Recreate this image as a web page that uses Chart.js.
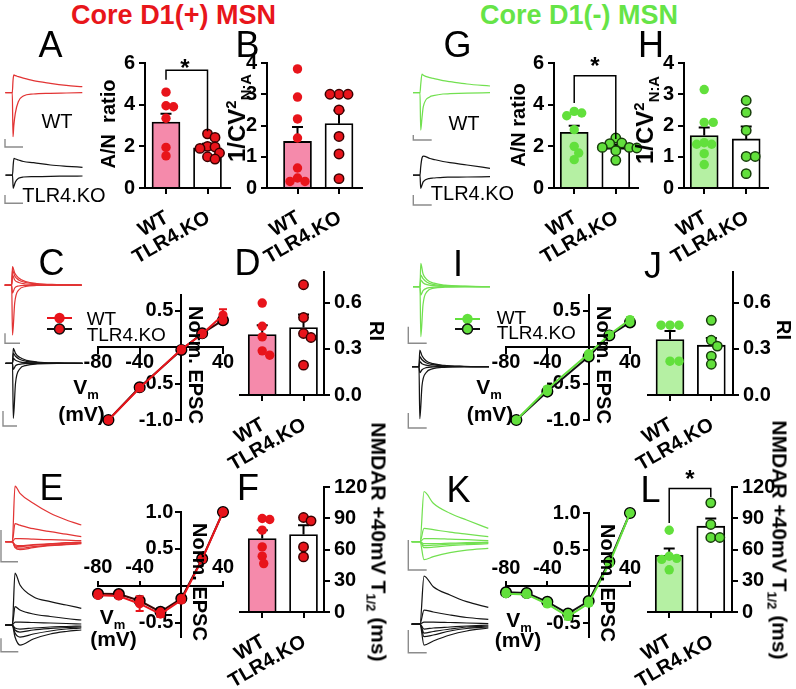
<!DOCTYPE html>
<html lang="en">
<head>
<meta charset="utf-8">
<title>Core D1(+) / D1(-) MSN</title>
<script src="https://cdn.jsdelivr.net/npm/chart.js@4.4.1/dist/chart.umd.min.js"></script>
<style>
html,body{margin:0;padding:0;background:#fff;}
body{position:relative;width:796px;height:689px;overflow:hidden;font-family:"Liberation Sans",Arial,Helvetica,sans-serif;}
canvas{position:absolute;}
.t{position:absolute;white-space:nowrap;line-height:1;color:#000;}
.t sub,.t sup{font-size:0.62em;line-height:0;}
.lg{position:absolute;}
</style>
</head>
<body>
<script>
// ======================= DATA =======================
const groups = ['WT', 'TLR4.KO'];

// --- Core D1(+) MSN ---
// A: AMPA/NMDA ratio
const aWT = [4.6, 3.95, 3.9, 3.35, 1.95, 1.54];
const aKO = [2.6, 2.43, 2.0, 1.97, 1.9, 1.68, 1.5, 1.39];
const aMean = [3.17, 1.93];
const aSem = [0.40, 0.19];
// B: 1/CV^2 N:A
const bWT = [3.81, 2.91, 2.21, 1.6, 0.64, 0.32, 0.21, 0.21];
const bKO = [3.0, 3.0, 3.0, 2.5, 1.65, 1.09, 0.3];
const bMean = [1.49, 2.06];
const bSem = [0.46, 0.42];
// C: AMPA I-V
const cVm = [-70, -40, 0, 20, 40];
const cWT = [-1.0, -0.56, -0.03, 0.18, 0.44];
const cKO = [-1.0, -0.55, -0.04, 0.19, 0.37];
const cWTsem = [0.02, 0.03, 0.02, 0.02, 0.08];
const cKOsem = [0.02, 0.03, 0.02, 0.02, 0.03];
// D: rectification index
const dWT = [0.598, 0.447, 0.378, 0.287, 0.259];
const dKO = [0.717, 0.504, 0.40, 0.374, 0.194];
const dMean = [0.393, 0.439];
const dSem = [0.061, 0.084];
// E: NMDA I-V
const eVm = [-80, -60, -40, -20, 0, 20, 40];
const eWT = [-0.126, -0.135, -0.24, -0.38, -0.19, 0.36, 1.0];
const eKO = [-0.105, -0.11, -0.20, -0.35, -0.17, 0.37, 1.0];
const eWTsem = [0.02, 0.02, 0.10, 0.04, 0.03, 0.03, 0];
const eKOsem = [0.02, 0.02, 0.03, 0.05, 0.03, 0.03, 0];
// F: NMDAR +40 mV T1/2 (ms)
const fWT = [89.8, 88.8, 78.6, 62.5, 53.6, 46.5];
const fKO = [90.7, 87.5, 62.5, 52.9];
const fMean = [70.6, 74.4];
const fSem = [8.0, 9.0];

// --- Core D1(-) MSN ---
const gWT = [3.68, 3.6, 3.47, 2.8, 2.0, 1.68, 1.36];
const gKO = [2.4, 2.16, 2.13, 1.95, 1.95, 1.92, 1.79, 1.33];
const gMean = [2.67, 1.92];
const gSem = [0.32, 0.16];
const hWT = [3.15, 2.1, 2.1, 1.45, 1.4, 1.4, 1.1, 0.75];
const hKO = [2.8, 2.42, 1.84, 1.01, 1.01, 0.46];
const hMean = [1.68, 1.57];
const hSem = [0.26, 0.40];
const iVm = [-70, -40, 0, 20, 40];
const iWT = [-1.0, -0.575, -0.09, 0.17, 0.38];
const iKO = [-1.0, -0.61, -0.13, 0.16, 0.34];
const iWTsem = [0.02, 0.03, 0.02, 0.02, 0.03];
const iKOsem = [0.02, 0.03, 0.02, 0.02, 0.03];
const jWT = [0.454, 0.454, 0.454, 0.22, 0.22];
const jKO = [0.486, 0.356, 0.318, 0.253, 0.2];
const jMean = [0.361, 0.324];
const jSem = [0.056, 0.047];
const kVm = [-80, -60, -40, -20, 0, 20, 40];
const kWT = [-0.10, -0.11, -0.24, -0.41, -0.23, 0.31, 1.0];
const kKO = [-0.08, -0.09, -0.21, -0.37, -0.20, 0.34, 1.0];
const kWTsem = [0.02, 0.02, 0.03, 0.04, 0.03, 0.03, 0];
const kKOsem = [0.02, 0.02, 0.03, 0.04, 0.03, 0.03, 0];
const lWT = [78.5, 53.5, 51.5, 50.5, 40.5];
const lKO = [104.8, 84.0, 71.5, 71.5];
const lMean = [54.5, 82.4];
const lSem = [6.5, 7.4];

// tick values
const ticksAN = [0, 2, 4, 6];
const ticksCV = [0, 1, 2, 3, 4];
const ticksRI = [0, 0.3, 0.6];
const ticksT12 = [0, 30, 60, 90, 120];
const ticksVm = [-80, -40, 40];
const ticksAmpaIV = [-1.0, -0.5, 0.5];
const ticksNmdaIV = [-0.5, 0.5, 1.0];

// example EPSC traces (time, ms; current, arbitrary pA units; outward up)
const tA = [-7, 0, 0.7, 1.5, 3, 6, 11, 21, 38, 54, 70];
const trA_WT_p40 = [0, 0, 12, 17.7, 17, 16, 14.5, 12, 9.4, 7.4, 6];
const trA_WT_m70 = [0, 0, -44, -33, -20.6, -9, -3.3, -1.3, -0.6, -0.3, 0];
const trA_KO_p40 = [0, 0, 10, 16.7, 16, 15, 13.5, 12.3, 10, 8.7, 7.7];
const trA_KO_m70 = [0, 0, -13.3, -11, -6.7, -3.3, -2, -1.7, -1.3, -1.2, -1];
const tG = [-7, 0, 0.7, 2, 3.3, 10, 13.3, 23, 30, 47, 70];
const trG_WT_p40 = [0, 0, 8, 18.7, 17.5, 15, 14.4, 12, 11, 8.7, 6.7];
const trG_WT_m70 = [0, 0, -37.3, -25, -14, -4, -3, -1.3, -1, -0.5, 0];
const trG_KO_p40 = [0, 0, 8, 17, 19, 16.5, 15.7, 13.5, 12.3, 10, 6.7];
const trG_KO_m70 = [0, 0, -13.3, -10, -6.7, -3.3, -3, -2.3, -2.2, -2, -1.7];
const tC = [-7, 0, 0.8, 3, 7, 14, 25, 45, 70];
const trC_WT = [[0,0,18.3,12,7,3.5,1.5,0.5,0],[0,0,15,9,5,2.5,1,0.3,0],[0,0,10,5,2.5,1,0.3,0,0],[0,0,-8,-3,-1,-0.3,0,0,0],[0,0,-50,-18,-5,-1.5,-0.5,0,0]];
const trC_KO = [[0,0,15,10,6,3,1.3,0.4,0],[0,0,10,7,4,2,0.8,0.2,0],[0,0,5,3,1.5,0.6,0.2,0,0],[0,0,-6,-2.5,-1,-0.3,0,0,0],[0,0,-55,-20,-6,-2,-0.6,0,0]];
const trI_WT = [[0,0,23.4,13,7,3.5,1.5,0.5,0],[0,0,11.7,8,4.5,2,1,0.3,0],[0,0,6.7,4,2,1,0.3,0,0],[0,0,-8.3,-4,-1.5,-0.5,0,0,0],[0,0,-50,-18,-5,-1.5,-0.5,0,0]];
const trI_KO = [[0,0,16.7,11,6,3,1.3,0.4,0],[0,0,10,7,4,2,0.8,0.2,0],[0,0,5,3,1.5,0.6,0.2,0,0],[0,0,-6,-3,-1,-0.3,0,0,0],[0,0,-52,-19,-6,-2,-0.6,0,0]];
const tE = [-7, 0, 2.7, 7.7, 21, 38, 54, 69];
const trE_WT = [[0,0,55.7,48.4,38.4,28.4,21.7,16.7],[0,0,18,16.5,13,10,7.5,5],[0,0,3,3,2.5,2,1.5,1],[0,0,-6,-8,-6,-4,-3,-2],[0,0,-5,-6.5,-5,-3.5,-2.5,-1.5],[0,0,-4,-5,-3.5,-2.5,-1.5,-1],[0,0,-3,-4,-3,-2,-1,-0.5]];
const trE_KO = [[0,0,52,40,28.3,23.3,20,16.7],[0,0,18.3,15,11,8.5,6.5,5],[0,0,3,3,2.5,2,1.5,1],[0,0,-12,-20,-14,-9,-6.5,-5],[0,0,-8,-12,-9,-6,-4,-3],[0,0,-5,-7,-5,-3.5,-2.5,-2],[0,0,-3,-4,-3,-2,-1.5,-1]];
const tK = [-8.3, 0, 4, 13.3, 30, 46.7, 68.3];
const trK_WT = [[0,0,50,38.4,28.4,21.7,13.4],[0,0,13.3,12,9.5,7.5,5],[0,0,3,3,2.5,2,1],[0,0,-18,-15,-11,-8.5,-6.6],[0,0,-6,-5.5,-4,-3,-2],[0,0,-4,-3.5,-2.5,-2,-1],[0,0,-2,-2,-1.5,-1,-0.5]];
const trK_KO = [[0,0,48,37.3,29,22.3,16.7],[0,0,14,12,9,6.5,4.7],[0,0,2,2,1.5,1,0.5],[0,0,-21,-17,-11,-7,-4],[0,0,-12.7,-11,-7,-4.5,-3],[0,0,-9,-7.5,-5,-3,-2],[0,0,-5,-4,-3,-2,-1]];

// ======================= STYLE =======================
const FONT = '"Liberation Sans", Arial, Helvetica, sans-serif';
Chart.defaults.font.family = FONT;
Chart.defaults.color = '#000';
Chart.defaults.animation = false;
Chart.defaults.events = [];
Chart.defaults.plugins.legend.display = false;
Chart.defaults.plugins.tooltip.enabled = false;

const RED = '#e8141b', RED_EDGE = '#3a0000', PINK = '#f58aab';
const GREEN = '#62e03c', GREEN_EDGE = '#173d0b', LGREEN = '#b5f0a3';
const RED_TR = '#e23434', GREEN_TR = '#72e050', BLACK_TR = '#141414', GRAY = '#8c8c8c';
const TICK_FONT = {size: 20, weight: 'bold', family: FONT};
const axisGrid = (len) => ({display: true, drawOnChartArea: false, drawTicks: true, tickLength: len, color: '#000', lineWidth: 2, offset: false});
const axisBorder = {display: true, color: '#000', width: 2};

function mkCanvas(l, t, w, h) {
  const c = document.createElement('canvas');
  c.width = w; c.height = h;
  c.style.left = l + 'px'; c.style.top = t + 'px';
  c.style.width = w + 'px'; c.style.height = h + 'px';
  document.body.appendChild(c);
  return c;
}

// ======================= PLUGINS =======================
const errorBars = {
  id: 'errorBars',
  beforeDatasetDraw(chart, args) {
    const ds = chart.data.datasets[args.index];
    if (!ds.sem) return;
    const y = chart.scales.y, ctx = chart.ctx;
    ctx.save();
    ctx.strokeStyle = ds.semColor || '#000';
    ctx.lineWidth = 2;
    args.meta.data.forEach((el, k) => {
      const m = ds.data[k].y, e = ds.sem[k];
      if (!e) return;
      const top = y.getPixelForValue(m + e);
      const bot = ds.semBoth ? y.getPixelForValue(m - e) : y.getPixelForValue(m);
      const cap = ds.semCap || 5;
      ctx.beginPath();
      ctx.moveTo(el.x, bot); ctx.lineTo(el.x, top);
      ctx.moveTo(el.x - cap, top); ctx.lineTo(el.x + cap, top);
      if (ds.semBoth) { ctx.moveTo(el.x - cap, bot); ctx.lineTo(el.x + cap, bot); }
      ctx.stroke();
    });
    ctx.restore();
  }
};

const swarm = {
  id: 'swarm',
  afterDatasetsUpdate(chart) {
    chart.data.datasets.forEach((ds, i) => {
      if (!ds.swarm) return;
      const els = chart.getDatasetMeta(i).data;
      const d = ds.pointRadius * 2 * 0.8;
      const order = els.map((e, k) => k).sort((a, b) => els[a].y - els[b].y);
      const placed = [];
      order.forEach(k => {
        const e = els[k], cx = e.x;
        for (let n = 0; n < 60; n++) {
          const off = n === 0 ? 0 : Math.ceil(n / 2) * (n % 2 ? 1 : -1) * 1.5;
          const x = cx + off;
          if (placed.every(p => (p.x - x) ** 2 + (p.y - e.y) ** 2 >= d * d)) { e.x = x; break; }
        }
        placed.push({x: e.x, y: e.y});
      });
    });
  }
};

const bracket = {
  id: 'bracket',
  afterDatasetsDraw(chart, args, opts) {
    if (!opts || opts.top == null) return;
    const x = chart.scales.x, y = chart.scales.y, ctx = chart.ctx;
    const x0 = x.getPixelForValue(0), x1 = x.getPixelForValue(1), yt = y.getPixelForValue(opts.top);
    ctx.save();
    ctx.strokeStyle = '#000'; ctx.lineWidth = 1.5;
    ctx.beginPath();
    ctx.moveTo(x0, y.getPixelForValue(opts.left));
    ctx.lineTo(x0, yt); ctx.lineTo(x1, yt);
    ctx.lineTo(x1, y.getPixelForValue(opts.right));
    ctx.stroke();
    ctx.restore();
  }
};

// ======================= PANEL BUILDERS =======================
function barPanel(p) {
  const PAD = 24, YW = 46, XH = 74;
  const a = p.area;
  const cl = p.yRight ? a.l - PAD : a.l - YW - PAD;
  const cr = p.yRight ? a.r + YW + PAD : a.r + PAD;
  const ct = a.t - PAD, cb = a.b + XH + PAD;
  const cv = mkCanvas(cl, ct, cr - cl, cb - ct);
  const idx = groups.map((g, i) => i);
  new Chart(cv, {
    type: 'bar',
    data: { datasets: [
      { type: 'bar', data: idx.map(i => ({x: i, y: p.mean[i]})), sem: p.sem, semCap: 5.5,
        backgroundColor: [p.fill, '#ffffff'], borderColor: '#000', borderWidth: 1.8, barThickness: 28, order: 3 },
      { type: 'scatter', data: p.wt.map(v => ({x: 0, y: v})), swarm: true, pointRadius: 4.7,
        pointBackgroundColor: p.dot, pointBorderColor: p.dot, pointBorderWidth: 0, order: 1, clip: false },
      { type: 'scatter', data: p.ko.map(v => ({x: 1, y: v})), swarm: true, pointRadius: 4.7,
        pointBackgroundColor: p.dot, pointBorderColor: p.edge, pointBorderWidth: 1.5, order: 1, clip: false }
    ]},
    options: {
      responsive: false, animation: false,
      layout: {padding: PAD},
      plugins: { bracket: p.bracket || {} },
      scales: {
        x: { type: 'linear', bounds: 'data', min: p.xr[0], max: p.xr[1], offset: false,
             afterBuildTicks: s => { s.ticks = idx.map(i => ({value: i})); },
             afterFit: s => { s.height = XH; },
             ticks: { autoSkip: false, minRotation: 30, maxRotation: 30, padding: 12, labelOffset: 1,
                      font: TICK_FONT, color: '#000', callback: v => groups[v] },
             grid: axisGrid(6), border: axisBorder },
        y: { type: 'linear', bounds: 'data', position: p.yRight ? 'right' : 'left', min: 0, max: p.yMax,
             afterBuildTicks: s => { s.ticks = p.yTicks.map(v => ({value: v})); },
             afterFit: s => { s.width = YW; },
             ticks: { padding: 4, font: TICK_FONT, color: '#000', callback: v => p.fmt ? v.toFixed(1) : String(v) },
             grid: axisGrid(6), border: axisBorder }
      }
    },
    plugins: [swarm, errorBars, bracket]
  });
}

function ivPanel(p) {
  const PAD = 40;
  const a = p.area;
  const cv = mkCanvas(a.l - PAD, a.t - PAD, a.r - a.l + 2 * PAD, a.b - a.t + 2 * PAD);
  new Chart(cv, {
    type: 'line',
    data: { datasets: [
      { data: p.vm.map((v, k) => ({x: v, y: p.ko[k]})), sem: p.koSem, semBoth: true, semCap: 4, semColor: p.koLine,
        borderColor: p.koLine, borderWidth: 2, pointRadius: 5.3, pointBackgroundColor: p.dot,
        pointBorderColor: '#000', pointBorderWidth: 1.5, order: 2, clip: false },
      { data: p.vm.map((v, k) => ({x: v, y: p.wt[k]})), sem: p.wtSem, semBoth: true, semCap: 4, semColor: p.dot,
        borderColor: p.dot, borderWidth: 2, pointRadius: 4.6, pointBackgroundColor: p.dot,
        pointBorderColor: p.dot, pointBorderWidth: 0, order: 1, clip: false }
    ]},
    options: {
      responsive: false, animation: false,
      layout: {padding: PAD},
      scales: {
        x: { type: 'linear', bounds: 'data', min: -80, max: 40, position: {y: 0},
             afterBuildTicks: s => { s.ticks = ticksVm.map(v => ({value: v})); },
             ticks: { font: TICK_FONT, color: '#000', padding: p.xPad, maxRotation: 0, autoSkip: false, callback: v => String(v) },
             grid: axisGrid(p.xTick), border: axisBorder },
        y: { type: 'linear', bounds: 'data', min: p.yr[0], max: p.yr[1], position: {x: 0},
             afterBuildTicks: s => { s.ticks = p.yTicks.map(v => ({value: v})); },
             ticks: { font: TICK_FONT, color: '#000', padding: 2, callback: v => v.toFixed(1) + '\u2009\u2009' },
             grid: axisGrid(5), border: axisBorder }
      }
    },
    plugins: [errorBars]
  });
}

function tracePanel(p) {
  const b = p.box, o = p.origin, sb = p.bar;
  const cv = mkCanvas(b.l, b.t, b.w, b.h);
  const xmin = b.l - o.x, ymax = o.y - b.t;
  const barPts = [
    {x: sb.x - o.x, y: o.y - (sb.y - sb.h)},
    {x: sb.x - o.x, y: o.y - sb.y},
    {x: sb.x + sb.w - o.x, y: o.y - sb.y}
  ];
  new Chart(cv, {
    type: 'line',
    data: { datasets: [
      ...p.traces.map(tr => ({ data: p.t.map((t, k) => ({x: t, y: tr[k]})), borderColor: p.color, borderWidth: 1.25,
                               pointRadius: 0, cubicInterpolationMode: 'monotone', clip: false })),
      { data: barPts, borderColor: GRAY, borderWidth: 1.4, pointRadius: 0, tension: 0, clip: false }
    ]},
    options: {
      responsive: false, animation: false, layout: {padding: 0},
      scales: {
        x: {type: 'linear', display: false, bounds: 'data', min: xmin, max: xmin + b.w},
        y: {type: 'linear', display: false, bounds: 'data', min: ymax - b.h, max: ymax}
      }
    }
  });
}

// ======================= BUILD =======================
// bar panels
barPanel({area: {l: 145, t: 63, r: 230, b: 188}, xr: [-0.506, 1.542], yMax: 6, yTicks: ticksAN,
  wt: aWT, ko: aKO, mean: aMean, sem: aSem, fill: PINK, dot: RED, edge: RED_EDGE,
  bracket: {top: 5.65, left: 5.2, right: 2.72}});
barPanel({area: {l: 267, t: 63, r: 362, b: 188}, xr: [-0.735, 1.554], yMax: 4, yTicks: ticksCV,
  wt: bWT, ko: bKO, mean: bMean, sem: bSem, fill: PINK, dot: RED, edge: RED_EDGE});
barPanel({area: {l: 240, t: 272, r: 324, b: 395}, xr: [-0.538, 1.496], yMax: 0.8, yTicks: ticksRI, fmt: true, yRight: true,
  wt: dWT, ko: dKO, mean: dMean, sem: dSem, fill: PINK, dot: RED, edge: RED_EDGE});
barPanel({area: {l: 240, t: 487, r: 324, b: 612}, xr: [-0.538, 1.496], yMax: 120, yTicks: ticksT12, yRight: true,
  wt: fWT, ko: fKO, mean: fMean, sem: fSem, fill: PINK, dot: RED, edge: RED_EDGE});
barPanel({area: {l: 554, t: 63, r: 638, b: 188}, xr: [-0.486, 1.534], yMax: 6, yTicks: ticksAN,
  wt: gWT, ko: gKO, mean: gMean, sem: gSem, fill: LGREEN, dot: GREEN, edge: GREEN_EDGE,
  bracket: {top: 5.39, left: 4.08, right: 2.35}});
barPanel({area: {l: 684, t: 63, r: 768, b: 188}, xr: [-0.481, 1.519], yMax: 4, yTicks: ticksCV,
  wt: hWT, ko: hKO, mean: hMean, sem: hSem, fill: LGREEN, dot: GREEN, edge: GREEN_EDGE});
barPanel({area: {l: 648, t: 272, r: 733, b: 395}, xr: [-0.533, 1.525], yMax: 0.8, yTicks: ticksRI, fmt: true, yRight: true,
  wt: jWT, ko: jKO, mean: jMean, sem: jSem, fill: LGREEN, dot: GREEN, edge: GREEN_EDGE});
barPanel({area: {l: 648, t: 487, r: 732, b: 612}, xr: [-0.510, 1.510], yMax: 120, yTicks: ticksT12, yRight: true,
  wt: lWT, ko: lKO, mean: lMean, sem: lSem, fill: LGREEN, dot: GREEN, edge: GREEN_EDGE,
  bracket: {top: 118.5, left: 85.4, right: 110.4}});

// I-V panels
ivPanel({area: {l: 98, t: 295, r: 223, b: 420}, yr: [-1.0, 0.716], yTicks: ticksAmpaIV, xTick: 6, xPad: -3,
  vm: cVm, wt: cWT, ko: cKO, wtSem: cWTsem, koSem: cKOsem, dot: RED, koLine: '#3a0505'});
ivPanel({area: {l: 98, t: 512, r: 223, b: 637}, yr: [-0.69, 1.0], yTicks: ticksNmdaIV, xTick: -6, xPad: -24,
  vm: eVm, wt: eWT, ko: eKO, wtSem: eWTsem, koSem: eKOsem, dot: RED, koLine: '#3a0505'});
ivPanel({area: {l: 506, t: 295, r: 630, b: 420}, yr: [-1.0, 0.716], yTicks: ticksAmpaIV, xTick: 6, xPad: -3,
  vm: iVm, wt: iWT, ko: iKO, wtSem: iWTsem, koSem: iKOsem, dot: GREEN, koLine: '#111111'});
ivPanel({area: {l: 506, t: 513, r: 630, b: 637}, yr: [-0.69, 1.0], yTicks: ticksNmdaIV, xTick: -6, xPad: -24,
  vm: kVm, wt: kWT, ko: kKO, wtSem: kWTsem, koSem: kKOsem, dot: GREEN, koLine: '#111111'});

// example traces
tracePanel({box: {l: 0, t: 64, w: 92, h: 88}, origin: {x: 12.3, y: 92.7}, bar: {x: 5, y: 147, w: 18, h: 8},
  t: tA, traces: [trA_WT_p40, trA_WT_m70], color: RED_TR});
tracePanel({box: {l: 0, t: 150, w: 92, h: 60}, origin: {x: 12.5, y: 175}, bar: {x: 5, y: 203.3, w: 18, h: 8.3},
  t: tA, traces: [trA_KO_p40, trA_KO_m70], color: BLACK_TR});
tracePanel({box: {l: 404, t: 64, w: 94, h: 82}, origin: {x: 420, y: 92.7}, bar: {x: 413.3, y: 140, w: 18.4, h: 5},
  t: tG, traces: [trG_WT_p40, trG_WT_m70], color: GREEN_TR});
tracePanel({box: {l: 404, t: 150, w: 94, h: 60}, origin: {x: 420, y: 175}, bar: {x: 413.3, y: 205, w: 18.4, h: 10},
  t: tG, traces: [trG_KO_p40, trG_KO_m70], color: BLACK_TR});
tracePanel({box: {l: 0, t: 256, w: 92, h: 92}, origin: {x: 11.7, y: 285}, bar: {x: 5, y: 343.3, w: 15, h: 10},
  t: tC, traces: trC_WT, color: RED_TR});
tracePanel({box: {l: 0, t: 340, w: 92, h: 92}, origin: {x: 12.5, y: 363.3}, bar: {x: 3, y: 426, w: 14, h: 15},
  t: tC, traces: trC_KO, color: BLACK_TR});
tracePanel({box: {l: 404, t: 256, w: 94, h: 92}, origin: {x: 420, y: 286.7}, bar: {x: 408.3, y: 343.3, w: 18.4, h: 16.6},
  t: tC, traces: trI_WT, color: GREEN_TR});
tracePanel({box: {l: 404, t: 340, w: 94, h: 92}, origin: {x: 419, y: 366.7}, bar: {x: 408.3, y: 428, w: 18.4, h: 15},
  t: tC, traces: trI_KO, color: BLACK_TR});
tracePanel({box: {l: 0, t: 478, w: 92, h: 90}, origin: {x: 12.3, y: 541.7}, bar: {x: 1, y: 561.7, w: 17, h: 31.7},
  t: tE, traces: trE_WT, color: RED_TR});
tracePanel({box: {l: 0, t: 565, w: 92, h: 92}, origin: {x: 12.3, y: 625}, bar: {x: 1, y: 651.7, w: 17.3, h: 13.4},
  t: tE, traces: trE_KO, color: BLACK_TR});
tracePanel({box: {l: 404, t: 478, w: 94, h: 96}, origin: {x: 420, y: 541.7}, bar: {x: 408.3, y: 570, w: 18.4, h: 30},
  t: tK, traces: trK_WT, color: GREEN_TR});
tracePanel({box: {l: 404, t: 565, w: 94, h: 92}, origin: {x: 420, y: 624}, bar: {x: 408.3, y: 652.7, w: 18.4, h: 22.7},
  t: tK, traces: trK_KO, color: BLACK_TR});

// ======================= TEXT =======================
function label(html, x, y, o = {}) {
  const d = document.createElement('div');
  d.className = 't';
  d.innerHTML = html;
  d.style.left = x + 'px'; d.style.top = y + 'px';
  d.style.fontSize = (o.size || 19) + 'px';
  d.style.fontWeight = o.bold ? 'bold' : 'normal';
  if (o.color) d.style.color = o.color;
  const ax = o.anchor === 'left' ? '0' : '-50%';
  d.style.transform = `translate(${ax},-50%)` + (o.rot ? ` rotate(${o.rot}deg)` : '');
  document.body.appendChild(d);
}
function legendMark(x, y, line, fill, edge) {
  const d = document.createElement('div');
  d.className = 'lg';
  d.style.left = (x - 2) + 'px'; d.style.top = (y - 8) + 'px';
  d.innerHTML = `<svg width="30" height="16" xmlns="http://www.w3.org/2000/svg">
    <line x1="2" y1="8" x2="27" y2="8" stroke="${line}" stroke-width="2"/>
    <circle cx="14.5" cy="8" r="${edge ? 5 : 5.2}" fill="${fill}" ${edge ? `stroke="${edge}" stroke-width="1.5"` : ''}/></svg>`;
  document.body.appendChild(d);
}

label('Core D1(+) MSN', 173.5, 15, {size: 27, bold: true, color: '#e8161b'});
label('Core D1(-) MSN', 579, 15, {size: 27, bold: true, color: '#66e447'});

[['A', 50.5, 45], ['B', 247.5, 45], ['G', 457.5, 45], ['H', 651, 45],
 ['C', 51.5, 262.5], ['D', 247.5, 262.5], ['I', 458, 264], ['J', 653, 266],
 ['E', 51.5, 487.5], ['F', 248, 487.5], ['K', 458.5, 490], ['L', 650.5, 490]]
  .forEach(([s, x, y]) => label(s, x, y, {size: 36}));

// axis titles
label('A/N&nbsp;&nbsp;ratio', 107.5, 124, {size: 20, bold: true, rot: -90});
label('A/N ratio', 517.5, 125, {size: 20, bold: true, rot: -90});
label('1/CV<sup>2</sup><sub>N:A</sub>', 237, 118, {size: 24, bold: true, rot: -90});
label('1/CV<sup>2</sup><sub>N:A</sub>', 645, 120, {size: 24, bold: true, rot: -90});
label('RI', 376.5, 331, {size: 20, bold: true, rot: 90});
label('RI', 784, 330, {size: 20, bold: true, rot: 90});
label('NMDAR +40mV T<sub>1/2</sub> (ms)', 379, 542, {size: 21, bold: true, rot: 90});
label('NMDAR +40mV T<sub>1/2</sub> (ms)', 780, 540, {size: 21, bold: true, rot: 90});
label('Norm. EPSC', 196, 365, {size: 20, bold: true, rot: 90});
label('Norm. EPSC', 200, 582, {size: 20, bold: true, rot: 90});
label('Norm. EPSC', 603.5, 365, {size: 20, bold: true, rot: 90});
label('Norm. EPSC', 608, 582.5, {size: 20, bold: true, rot: 90});
label('V<sub>m</sub>', 86, 386, {size: 21, bold: true});
label('(mV)', 81.5, 413, {size: 21, bold: true});
label('V<sub>m</sub>', 112.5, 616, {size: 21, bold: true});
label('(mV)', 113.5, 638, {size: 21, bold: true});
label('V<sub>m</sub>', 489, 386, {size: 21, bold: true});
label('(mV)', 490, 413, {size: 21, bold: true});
label('V<sub>m</sub>', 519, 619, {size: 21, bold: true});
label('(mV)', 518, 639, {size: 21, bold: true});

// significance stars
label('*', 185, 67.5, {size: 24, bold: true});
label('*', 595, 66, {size: 24, bold: true});
label('*', 690, 479, {size: 24, bold: true});

// trace labels
label('WT', 57, 120.5, {size: 20});
label('TLR4.KO', 64, 194.5, {size: 20});
label('WT', 464, 122.5, {size: 20});
label('TLR4.KO', 472.5, 192.5, {size: 20});

// legends
legendMark(46.7, 318.3, RED, RED, null);
legendMark(46.7, 329.3, '#111', RED, '#111');
label('WT', 86.7, 317.5, {size: 19, anchor: 'left'});
label('TLR4.KO', 86.7, 334, {size: 19, anchor: 'left'});
legendMark(455, 319.3, GREEN, GREEN, null);
legendMark(455, 329.3, '#111', GREEN, '#111');
label('WT', 496.7, 316.7, {size: 19, anchor: 'left'});
label('TLR4.KO', 496.7, 331.7, {size: 19, anchor: 'left'});
</script>
</body>
</html>
